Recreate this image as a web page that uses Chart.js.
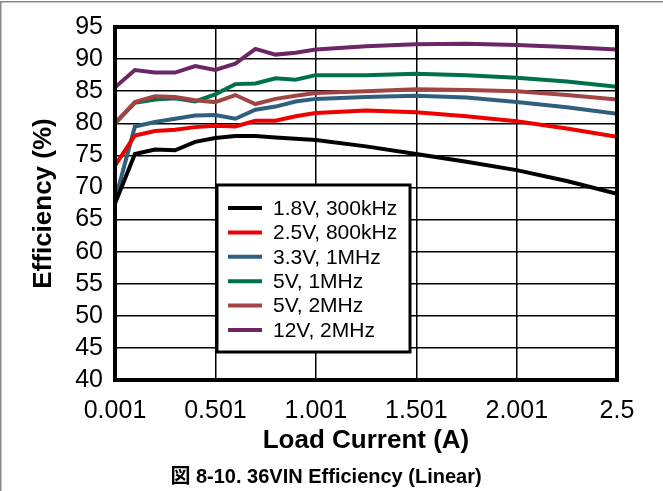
<!DOCTYPE html>
<html>
<head>
<meta charset="utf-8">
<script src="https://cdn.jsdelivr.net/npm/chart.js@4.4.1/dist/chart.umd.min.js"></script>
<style>
  html, body { margin: 0; padding: 0; background: #fff; }
  #wrap { width: 663px; height: 491px; position: relative; }
</style>
</head>
<body>
<div id="wrap"><canvas id="myChart" width="663" height="491"></canvas></div>
<script>
let loadCurrent = [0.001, 0.1, 0.2, 0.3, 0.4, 0.5, 0.6, 0.7, 0.8, 0.9, 1.0, 1.25, 1.5, 1.75, 2.0, 2.25, 2.5];
let eff18 = [67.5, 75.2, 75.9, 75.8, 77.1, 77.7, 78.0, 78.0, 77.8, 77.6, 77.4, 76.4, 75.2, 74.0, 72.7, 71.0, 69.0];
let eff25 = [73.4, 78.1, 78.8, 79.0, 79.4, 79.6, 79.5, 80.4, 80.4, 81.1, 81.6, 82.0, 81.7, 81.1, 80.3, 79.2, 77.9];
let eff33 = [68.0, 79.5, 80.2, 80.7, 81.2, 81.3, 80.7, 82.1, 82.6, 83.4, 83.8, 84.1, 84.3, 84.0, 83.3, 82.5, 81.5];
let eff5a = [80.0, 83.2, 83.7, 83.9, 83.4, 84.5, 86.1, 86.2, 87.0, 86.8, 87.5, 87.5, 87.7, 87.5, 87.1, 86.5, 85.7];
let eff5b = [80.0, 83.3, 84.2, 84.1, 83.6, 83.3, 84.4, 83.0, 83.8, 84.3, 84.7, 85.0, 85.3, 85.2, 85.0, 84.4, 83.7];
let eff12 = [85.6, 88.3, 87.9, 87.9, 88.9, 88.3, 89.3, 91.6, 90.7, 91.0, 91.5, 92.0, 92.3, 92.4, 92.2, 91.9, 91.5];

let labels = ['1.8V, 300kHz', '2.5V, 800kHz', '3.3V, 1MHz', '5V, 1MHz', '5V, 2MHz', '12V, 2MHz'];
let series = [eff18, eff25, eff33, eff5a, eff5b, eff12];
let colors = ['#000000', '#ee0000', '#2f5f7c', '#00704c', '#a34444', '#6c2565'];
let xTicks = [0.001, 0.501, 1.001, 1.501, 2.001, 2.5];

const FONT = '"Liberation Sans", Arial, sans-serif';

function pts(vals) {
  return vals.map((v, i) => ({ x: loadCurrent[i], y: v }));
}

// frame round plot, grey page edge, legend box and caption
const extras = {
  id: 'extras',
  afterDatasetsDraw(chart) {
    const ctx = chart.ctx;
    const a = chart.chartArea;
    ctx.save();
    ctx.strokeStyle = '#000';
    ctx.lineWidth = 4;
    ctx.strokeRect(a.left, a.top, a.right - a.left, a.bottom - a.top);

    // legend box
    const bx = 217, by = 185, bw = 193, bh = 167;
    ctx.fillStyle = '#fff';
    ctx.fillRect(bx, by, bw, bh);
    ctx.lineWidth = 3;
    ctx.strokeRect(bx, by, bw, bh);
    ctx.font = '21px ' + FONT;
    ctx.textBaseline = 'middle';
    chart.data.datasets.forEach((ds, i) => {
      const y = 208 + i * 24.4;
      ctx.strokeStyle = ds.borderColor;
      ctx.lineWidth = 4;
      ctx.beginPath();
      ctx.moveTo(228, y);
      ctx.lineTo(262, y);
      ctx.stroke();
      ctx.fillStyle = '#000';
      ctx.fillText(ds.label, 273, y + 1);
    });

    // page edge
    ctx.strokeStyle = '#888';
    ctx.lineWidth = 1.5;
    ctx.beginPath();
    ctx.moveTo(0.75, chart.height);
    ctx.lineTo(0.75, 1.75);
    ctx.lineTo(chart.width, 1.75);
    ctx.stroke();

    // caption
    ctx.fillStyle = '#000';
    ctx.font = 'bold 20px ' + FONT + ', "Noto Sans CJK JP"';
    ctx.textAlign = 'center';
    ctx.fillText('図 8-10. 36VIN Efficiency (Linear)', 326, 477);
    ctx.restore();
  }
};

let chart = new Chart(document.getElementById('myChart').getContext('2d'), {
  type: 'line',
  data: {
    datasets: series.map((s, i) => ({
      label: labels[i],
      data: pts(s),
      borderColor: colors[i],
      borderWidth: 4,
      pointRadius: 0,
      tension: 0,
      fill: false,
      order: i === 4 ? -1 : i
    }))
  },
  options: {
    responsive: false,
    animation: false,
    layout: { padding: { left: 0, right: 46, top: 24, bottom: 0 } },
    plugins: { legend: { display: false }, tooltip: { enabled: false } },
    scales: {
      x: {
        type: 'linear',
        min: 0.001,
        max: 2.5,
        afterBuildTicks: (s) => { s.ticks = xTicks.map(v => ({ value: v })); },
        afterFit: (s) => { s.height = 111; },
        ticks: {
          color: '#000',
          font: { family: FONT, size: 25 },
          padding: 16,
          maxRotation: 0,
          autoSkip: false,
          callback: (v) => String(v)
        },
        grid: { color: '#000', lineWidth: 1.5, drawTicks: false },
        border: { color: '#000', width: 4 },
        title: {
          display: true,
          text: 'Load Current (A)',
          color: '#000',
          font: { family: FONT, size: 26, weight: 'bold' },
          padding: { top: 35, bottom: 35 }
        }
      },
      y: {
        min: 40,
        max: 95,
        afterFit: (s) => { s.width = 115; },
        ticks: {
          stepSize: 5,
          autoSkip: false,
          color: '#000',
          font: { family: FONT, size: 25 },
          padding: 12
        },
        grid: { color: '#000', lineWidth: 1.5, drawTicks: false },
        border: { color: '#000', width: 4 },
        title: {
          display: true,
          text: 'Efficiency (%)',
          color: '#000',
          font: { family: FONT, size: 26, weight: 'bold' },
          padding: { top: 28, bottom: 28 }
        }
      }
    }
  },
  plugins: [extras]
});
</script>
</body>
</html>
